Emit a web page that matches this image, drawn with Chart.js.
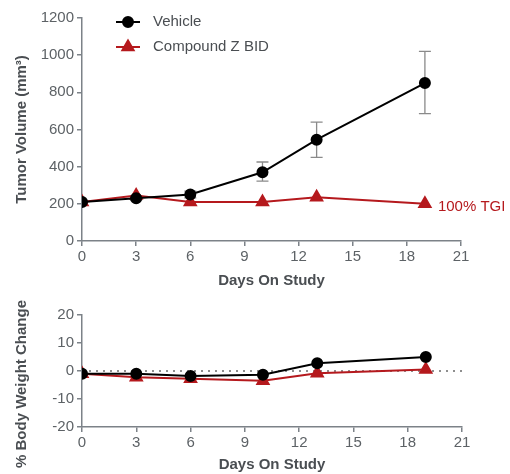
<!DOCTYPE html>
<html>
<head>
<meta charset="utf-8">
<script src="https://cdn.jsdelivr.net/npm/chart.js@4"></script>
<style>
  body { margin: 0; background: #fff; width: 510px; height: 474px; overflow: hidden; position: relative; }
  canvas { position: absolute; left: 0; }
  #tumorChart { top: 0; }
  #weightChart { top: 280px; }
</style>
</head>
<body>
<canvas id="tumorChart" width="510" height="290"></canvas>
<canvas id="weightChart" width="510" height="194"></canvas>
<script>
const days = [0, 3, 6, 10, 13, 19];
const vehicleVolume = [210, 230, 250, 370, 545, 850];
const vehicleLow = [210, 220, 232, 322, 450, 685];
const vehicleHigh = [210, 242, 268, 425, 640, 1020];
const compoundVolume = [210, 245, 210, 210, 235, 200];
const vehicleWeight = [-1, -1, -1.8, -1.3, 2.8, 5];
const compoundWeight = [-1, -2.2, -2.8, -3.5, -0.8, 0.5];
const xTicks = [0, 3, 6, 9, 12, 15, 18, 21];

const RED = '#b5191d';
const AXIS = '#7c8288';
const TICK = '#5d6266';
const TITLE = '#4a4e52';
const FONT = "'Liberation Sans', Arial, sans-serif";

Chart.defaults.font.family = FONT;
Chart.defaults.font.size = 15;
Chart.defaults.animation = false;

function pts(ys) {
    return days.map((d, i) => ({ x: d, y: ys[i] }));
}

function xScale(height) {
    return {
        type: 'linear', min: 0, max: 21,
        afterBuildTicks: s => { s.ticks = xTicks.map(v => ({ value: v })); },
        afterFit: s => { s.height = height; },
        border: { color: AXIS, width: 1.5 },
        grid: { drawOnChartArea: false, color: AXIS, tickLength: 5, lineWidth: 1.5 },
        ticks: { color: TICK, maxRotation: 0, padding: 2 },
        title: { display: true, text: 'Days On Study', color: TITLE, font: { weight: 'bold' }, padding: 0 }
    };
}

function yScale(min, max, step, title) {
    return {
        min: min, max: max,
        afterFit: s => { s.width = 82; },
        border: { color: AXIS, width: 1.5 },
        grid: { drawOnChartArea: false, color: AXIS, tickLength: 5, lineWidth: 1.5 },
        ticks: { color: TICK, stepSize: step, padding: 3, callback: v => String(v) },
        title: { display: !!title, text: title, color: TITLE, font: { weight: 'bold' }, padding: { top: 13, bottom: 0 } }
    };
}

const errorBars = {
    id: 'errorBars',
    beforeDatasetsDraw(chart) {
        const { ctx, scales: { x, y } } = chart;
        ctx.save();
        ctx.strokeStyle = '#8a8a8a';
        ctx.lineWidth = 1.3;
        days.forEach((d, i) => {
            const px = x.getPixelForValue(d);
            const lo = y.getPixelForValue(vehicleLow[i]);
            const hi = y.getPixelForValue(vehicleHigh[i]);
            if (Math.abs(lo - hi) < 1) return;
            ctx.beginPath();
            ctx.moveTo(px, lo); ctx.lineTo(px, hi);
            ctx.moveTo(px - 6, lo); ctx.lineTo(px + 6, lo);
            ctx.moveTo(px - 6, hi); ctx.lineTo(px + 6, hi);
            ctx.stroke();
        });
        ctx.restore();
    }
};

const extras = {
    id: 'extras',
    afterDraw(chart) {
        const { ctx, scales: { x, y } } = chart;
        ctx.save();
        // legend
        const items = [
            { label: 'Vehicle', color: '#000', style: 'circle', ly: 22 },
            { label: 'Compound Z BID', color: RED, style: 'triangle', ly: 47 }
        ];
        items.forEach(it => {
            ctx.strokeStyle = it.color;
            ctx.lineWidth = 2;
            ctx.beginPath();
            ctx.moveTo(116, it.ly); ctx.lineTo(140, it.ly);
            ctx.stroke();
            Chart.helpers.drawPoint(ctx, { pointStyle: it.style, radius: it.style === 'circle' ? 5 : 6.5, borderWidth: 1 }, 128, it.ly);
            ctx.fillStyle = it.color;
            ctx.fill();
            ctx.fillStyle = TITLE;
            ctx.font = '15px ' + FONT;
            ctx.textBaseline = 'middle';
            ctx.fillText(it.label, 153, it.ly);
        });
        // TGI annotation
        const last = compoundVolume.length - 1;
        ctx.fillStyle = RED;
        ctx.font = '15px ' + FONT;
        ctx.textBaseline = 'middle';
        ctx.fillText('100% TGI', x.getPixelForValue(days[last]) + 13, y.getPixelForValue(compoundVolume[last]) + 3);
        ctx.restore();
    }
};

const weightTitle = {
    id: 'weightTitle',
    afterDraw(chart) {
        const { ctx, chartArea } = chart;
        ctx.save();
        ctx.translate(22, (chartArea.top + chartArea.bottom) / 2 + 13);
        ctx.rotate(-Math.PI / 2);
        ctx.fillStyle = TITLE;
        ctx.font = 'bold 15px ' + FONT;
        ctx.textAlign = 'center';
        ctx.textBaseline = 'middle';
        ctx.fillText('% Body Weight Change', 0, 0);
        ctx.restore();
    }
};

new Chart(document.getElementById('tumorChart'), {
    type: 'line',
    data: {
        datasets: [
            {
                label: 'Vehicle',
                data: pts(vehicleVolume),
                borderColor: '#000', backgroundColor: '#000',
                borderWidth: 2, pointStyle: 'circle', pointRadius: 5, order: 1
            },
            {
                label: 'Compound Z BID',
                data: pts(compoundVolume),
                borderColor: RED, backgroundColor: RED,
                borderWidth: 2, pointStyle: 'triangle', pointRadius: 6.5, order: 2
            }
        ]
    },
    options: {
        responsive: false,
        layout: { padding: { top: 18, right: 49, left: 0, bottom: 0 } },
        plugins: { legend: { display: false }, tooltip: { enabled: false } },
        scales: {
            x: xScale(49),
            y: yScale(0, 1200, 200, 'Tumor Volume (mm³)')
        }
    },
    plugins: [errorBars, extras]
});

new Chart(document.getElementById('weightChart'), {
    type: 'line',
    data: {
        datasets: [
            {
                label: 'Vehicle',
                data: pts(vehicleWeight),
                borderColor: '#000', backgroundColor: '#000',
                borderWidth: 2, pointStyle: 'circle', pointRadius: 5, order: 1
            },
            {
                label: 'Compound Z BID',
                data: pts(compoundWeight),
                borderColor: RED, backgroundColor: RED,
                borderWidth: 2, pointStyle: 'triangle', pointRadius: 6.5, order: 2
            },
            {
                label: 'baseline',
                data: [{ x: 0, y: 0 }, { x: 21, y: 0 }],
                borderColor: '#6a6a6a', borderWidth: 1.5, borderDash: [2, 5],
                pointRadius: 0, order: 10
            }
        ]
    },
    options: {
        responsive: false,
        layout: { padding: { top: 35, right: 48, left: 0, bottom: 0 } },
        plugins: { legend: { display: false }, tooltip: { enabled: false } },
        scales: {
            x: xScale(47),
            y: yScale(-20, 20, 10, '')
        }
    },
    plugins: [weightTitle]
});
</script>
</body>
</html>
